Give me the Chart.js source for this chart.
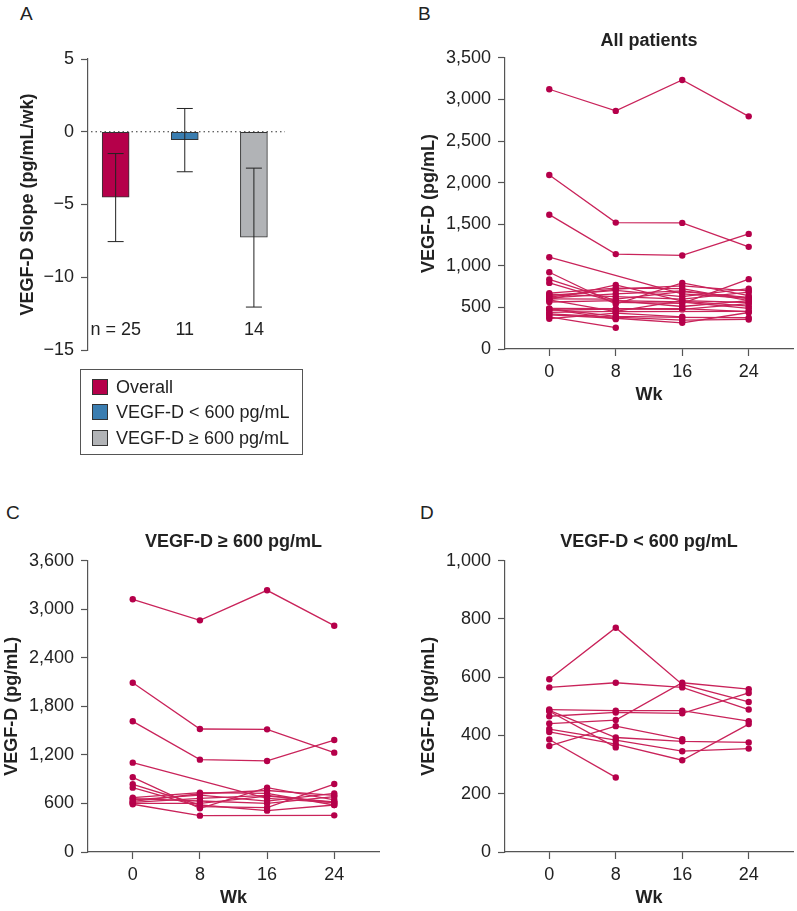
<!DOCTYPE html>
<html>
<head>
<meta charset="utf-8">
<script src="https://cdn.jsdelivr.net/npm/chart.js@4.4.1/dist/chart.umd.min.js"></script>
<style>
  body { margin: 0; background: #fff; width: 797px; height: 911px; overflow: hidden; position: relative;
         font-family: "Liberation Sans", Arial, Helvetica, sans-serif; color: #222; }
  canvas { position: absolute; }
  .letter { position: absolute; font-size: 19px; line-height: 1; }
  #legendA { position: absolute; left: 80px; top: 369px; width: 221px; height: 84px; border: 1px solid #555; }
  #legendA div { position: absolute; left: 11px; font-size: 18px; line-height: 1; white-space: nowrap; }
  #legendA span { display: inline-block; width: 14px; height: 14px; border: 1px solid #333; margin-right: 8px; vertical-align: -2px; }
</style>
</head>
<body>
<div class="letter" style="left:20px;top:4px">A</div>
<div class="letter" style="left:418px;top:4px">B</div>
<div class="letter" style="left:6px;top:503px">C</div>
<div class="letter" style="left:420px;top:503px">D</div>

<canvas id="chartA" width="300" height="330" style="left:0;top:40px"></canvas>
<div id="legendA"></div>
<canvas id="chartB" width="397" height="390" style="left:400px;top:20px"></canvas>
<canvas id="chartC" width="395" height="393" style="left:0;top:520px"></canvas>
<canvas id="chartD" width="397" height="393" style="left:400px;top:520px"></canvas>

<script>
// ---- panel A: slopes ----
const slopeGroups = ["Overall", "VEGF-D < 600 pg/mL", "VEGF-D \u2265 600 pg/mL"];
const slopeColors = ["#b5004a", "#3a7db0", "#b1b3b6"];
const slopeN = ["n = 25", "11", "14"];
const slopeMean = [-4.5, -0.55, -7.25];
const slopeLow = [-7.55, -2.75, -12.05];
const slopeHigh = [-1.5, 1.6, -2.5];

// ---- weeks ----
const weeks = [0, 8, 16, 24];

// ---- VEGF-D >= 600 pg/mL patients (14) ----
const highWeek0  = [3123, 2092, 1615, 1104, 923, 837, 795, 671, 643, 614, 590, 660, 625, 602];
const highWeek8  = [2863, 1520, 1141, null, 540, 581, 560, 733, 704, 663, 449, 630, 720, 600];
const highWeek16 = [3234, 1516, 1125, 663, 795, 511, 548, 725, 630, 700, null, 600, 760, 690];
const highWeek24 = [2797, 1228, 1384, 610, 643, 581, 840, 581, 725, 610, 453, 684, 700, 620];

// ---- VEGF-D < 600 pg/mL patients (11) ----
const lowWeek0  = [593, 565, 441, 489, 466, 486, 422, 412, 364, 386, 483];
const lowWeek8  = [770, 581, 453, 485, 479, 393, 384, 370, 432, 256, 359];
const lowWeek16 = [575, 565, 581, 485, 476, 380, 346, 315, 387, null, null];
const lowWeek24 = [515, 489, 559, 449, 546, 376, 355, 439, null, null, null];

const textColor = "#222";
const axisColor = "#555";
const lineColor = "#c9235a";
const pointColor = "#b5004a";
const fontFamily = '"Liberation Sans", Arial, Helvetica, sans-serif';
Chart.defaults.font.family = fontFamily;
Chart.defaults.color = textColor;

const tickFont = { size: 18 };
const titleFont = { size: 18, weight: "bold" };

function yAxis(min, max, step, width, text, titlePad, fmt) {
  return {
    min: min,
    max: max,
    afterFit: (s) => { s.width = width; },
    ticks: { stepSize: step, padding: 7, color: textColor, font: tickFont, callback: fmt },
    grid: { display: true, drawOnChartArea: false, drawTicks: true, tickLength: 7, tickColor: axisColor, tickWidth: 1.2 },
    border: { display: true, color: axisColor, width: 1.2 },
    title: { display: true, text: text, color: textColor, font: titleFont, padding: { top: titlePad, bottom: 0 } },
  };
}

function weekAxis() {
  return {
    type: "linear",
    min: -5.33,
    max: 29.33,
    afterBuildTicks: (s) => { s.ticks = weeks.map((v) => ({ value: v })); },
    afterFit: (s) => { s.height = 61; },
    ticks: { padding: 5, color: textColor, font: tickFont, maxRotation: 0 },
    grid: { display: true, drawOnChartArea: false, drawTicks: true, tickLength: 7, tickColor: axisColor, tickWidth: 1.2 },
    border: { display: true, color: axisColor, width: 1.2 },
    title: { display: true, text: "Wk", color: textColor, font: titleFont, padding: { top: 0, bottom: 4 } },
  };
}

const comma = (v) => v.toLocaleString("en-US");
const minus = (v) => (v < 0 ? "\u2212" + Math.abs(v) : String(v));

// title centred over the plot area
const panelTitle = {
  id: "panelTitle",
  afterDraw(chart, args, opts) {
    if (!opts.text) return;
    const { ctx, chartArea } = chart;
    ctx.save();
    ctx.font = "bold 18px " + fontFamily;
    ctx.fillStyle = textColor;
    ctx.textAlign = "center";
    ctx.textBaseline = "middle";
    ctx.fillText(opts.text, (chartArea.left + chartArea.right) / 2, opts.y);
    ctx.restore();
  },
};

// dotted zero line, error bars and n labels for panel A
const slopeExtras = {
  id: "slopeExtras",
  beforeDatasetsDraw(chart) {
    const { ctx, chartArea, scales } = chart;
    const y0 = scales.y.getPixelForValue(0);
    ctx.save();
    ctx.strokeStyle = "#333";
    ctx.lineWidth = 1.2;
    ctx.setLineDash([1.5, 3]);
    ctx.beginPath();
    ctx.moveTo(chartArea.left + 3, y0);
    ctx.lineTo(chartArea.right, y0);
    ctx.stroke();
    ctx.restore();
  },
  afterDatasetsDraw(chart) {
    const { ctx, scales } = chart;
    ctx.save();
    ctx.strokeStyle = "#222";
    ctx.lineWidth = 1;
    slopeMean.forEach((m, i) => {
      const px = scales.x.getPixelForValue(i + 1);
      const top = scales.y.getPixelForValue(slopeHigh[i]);
      const bot = scales.y.getPixelForValue(slopeLow[i]);
      ctx.beginPath();
      ctx.moveTo(px, top); ctx.lineTo(px, bot);
      ctx.moveTo(px - 8, top); ctx.lineTo(px + 8, top);
      ctx.moveTo(px - 8, bot); ctx.lineTo(px + 8, bot);
      ctx.stroke();
    });
    ctx.font = "18px " + fontFamily;
    ctx.fillStyle = textColor;
    ctx.textAlign = "center";
    ctx.textBaseline = "middle";
    slopeN.forEach((t, i) => {
      ctx.fillText(t, scales.x.getPixelForValue(i + 1), scales.y.getPixelForValue(-13.6));
    });
    ctx.restore();
  },
};

new Chart(document.getElementById("chartA"), {
  type: "bar",
  data: {
    datasets: [{
      data: slopeMean.map((v, i) => ({ x: i + 1, y: v })),
      backgroundColor: slopeColors,
      borderColor: "#333",
      borderWidth: 1,
      borderSkipped: false,
      barThickness: 27,
    }],
  },
  options: {
    responsive: false,
    animation: false,
    layout: { padding: { left: 0, top: 19, right: 15, bottom: 20 } },
    plugins: { legend: { display: false }, tooltip: { enabled: false } },
    scales: {
      x: { type: "linear", min: 0.6, max: 3.45, offset: false, display: false },
      y: yAxis(-15, 5, 5, 88, "VEGF-D Slope (pg/mL/wk)", 17.7, minus),
    },
  },
  plugins: [slopeExtras],
});

// legend for panel A
const legendA = document.getElementById("legendA");
slopeGroups.forEach((g, i) => {
  const row = document.createElement("div");
  row.style.top = (8 + i * 25.3) + "px";
  const sw = document.createElement("span");
  sw.style.background = slopeColors[i];
  row.appendChild(sw);
  row.appendChild(document.createTextNode(g));
  legendA.appendChild(row);
});

function makeSets(cols) {
  const n = cols[0].length;
  const sets = [];
  for (let p = 0; p < n; p++) {
    sets.push({
      data: weeks.map((w, k) => ({ x: w, y: cols[k][p] })),
      borderColor: lineColor,
      borderWidth: 1.3,
      pointBackgroundColor: pointColor,
      pointBorderColor: pointColor,
      pointRadius: 3.2,
      pointBorderWidth: 0,
      spanGaps: true,
    });
  }
  return sets;
}

const highCols = [highWeek0, highWeek8, highWeek16, highWeek24];
const lowCols = [lowWeek0, lowWeek8, lowWeek16, lowWeek24];
const allCols = highCols.map((c, k) => c.concat(lowCols[k]));

function lineChart(id, cols, yMax, yStep, title, titleY, padTop, padRight, titlePad) {
  return new Chart(document.getElementById(id), {
    type: "line",
    data: { datasets: makeSets(cols) },
    options: {
      responsive: false,
      animation: false,
      layout: { padding: { left: 0, top: padTop, right: padRight, bottom: 0 } },
      plugins: {
        legend: { display: false },
        tooltip: { enabled: false },
        panelTitle: { text: title, y: titleY },
      },
      scales: {
        x: weekAxis(),
        y: yAxis(0, yMax, yStep, 105 - (id === "chartC" ? 17 : 0), "VEGF-D (pg/mL)", titlePad, comma),
      },
    },
    plugins: [panelTitle],
  });
}

lineChart("chartB", allCols, 3500, 500, "All patients", 21.5, 37.9, 2, 18.2);
lineChart("chartC", highCols, 3600, 600, "VEGF-D \u2265 600 pg/mL", 22, 40.7, 16, 1.2);
lineChart("chartD", lowCols, 1000, 200, "VEGF-D < 600 pg/mL", 22, 40.7, 1, 17.9);
</script>
</body>
</html>
